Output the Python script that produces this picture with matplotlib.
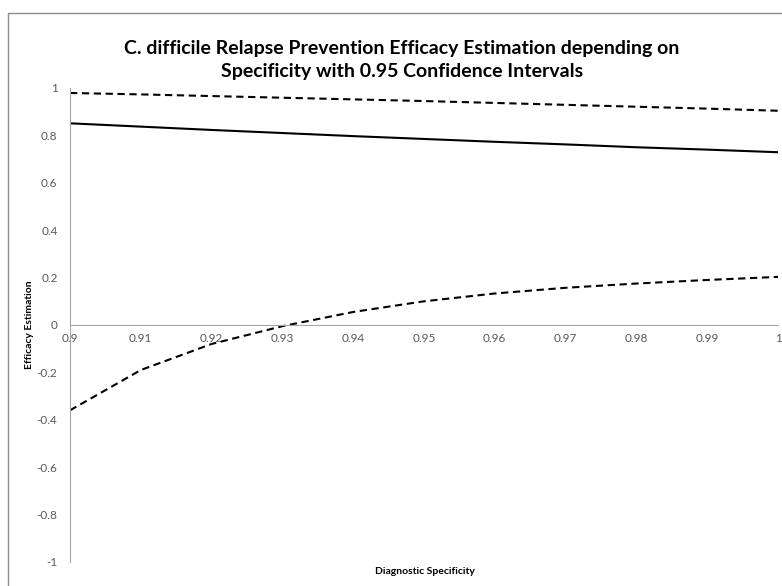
import matplotlib.pyplot as plt
from matplotlib.patches import Rectangle

# values
spec = [0.90, 0.91, 0.92, 0.93, 0.94, 0.95, 0.96, 0.97, 0.98, 0.99, 1.00]
efficacy = [0.851, 0.837, 0.823, 0.810, 0.797, 0.785, 0.773, 0.762, 0.750, 0.740, 0.729]
upper_ci = [0.979, 0.973, 0.966, 0.959, 0.952, 0.945, 0.937, 0.929, 0.921, 0.913, 0.904]
lower_ci = [-0.36, -0.19, -0.08, -0.005, 0.055, 0.10, 0.133, 0.157, 0.175, 0.19, 0.203]
xticks = [0.90, 0.91, 0.92, 0.93, 0.94, 0.95, 0.96, 0.97, 0.98, 0.99, 1.00]
xtick_labels = ["0.9", "0.91", "0.92", "0.93", "0.94", "0.95", "0.96", "0.97", "0.98", "0.99", "1"]
yticks = [-1, -0.8, -0.6, -0.4, -0.2, 0, 0.2, 0.4, 0.6, 0.8, 1]
ytick_labels = ["-1", "-0.8", "-0.6", "-0.4", "-0.2", "0", "0.2", "0.4", "0.6", "0.8", "1"]

fnt = ['Lato', 'DejaVu Sans']
W, H = 782, 586

fig = plt.figure(figsize=(W / 100, H / 100), dpi=100)
ax = fig.add_axes([70 / W, 1 - 562 / H, 708 / W, 474 / H])

ax.plot(spec, efficacy, color='black', lw=1.5)
ax.plot(spec, upper_ci, color='black', lw=1.5, linestyle=(0, (3.5, 2.2)))
ax.plot(spec, lower_ci, color='black', lw=1.5, linestyle=(0, (3.5, 2.2)))

ax.set_xlim(0.9, 1.0)
ax.set_ylim(-1, 1)
for s in ['top', 'right']:
    ax.spines[s].set_visible(False)
ax.spines['bottom'].set_position(('data', 0))
ax.spines['bottom'].set_color('#a6a6a6')
ax.spines['left'].set_color('#a6a6a6')

ax.set_xticks(xticks)
ax.set_xticklabels(xtick_labels, family=fnt, fontsize=8.5, color='#595959')
ax.set_yticks(yticks)
ax.set_yticklabels(ytick_labels, family=fnt, fontsize=8.5, color='#595959')
ax.tick_params(axis='both', length=0)
ax.tick_params(axis='x', pad=6)
ax.tick_params(axis='y', pad=9)

fig.text(402 / W, 1 - 60 / H,
         "C. difficile Relapse Prevention Efficacy Estimation depending on\nSpecificity with 0.95 Confidence Intervals",
         ha='center', va='center', family=fnt, fontsize=14, fontweight='bold',
         linespacing=1.45)
fig.text(425 / W, 1 - 571 / H, "Diagnostic Specificity", ha='center', va='center',
         family=fnt, fontsize=7.5, fontweight='bold')
fig.text(29 / W, 1 - 325 / H, "Efficacy Estimation", ha='center', va='center',
         rotation=90, family=fnt, fontsize=7.5, fontweight='bold')

fig.add_artist(Rectangle((8 / W, -0.1), 1.0, 1 - 13 / H + 0.1, transform=fig.transFigure,
                         fill=False, edgecolor='#8c8c8c', lw=1))

fig.savefig('out.png', dpi=100)
